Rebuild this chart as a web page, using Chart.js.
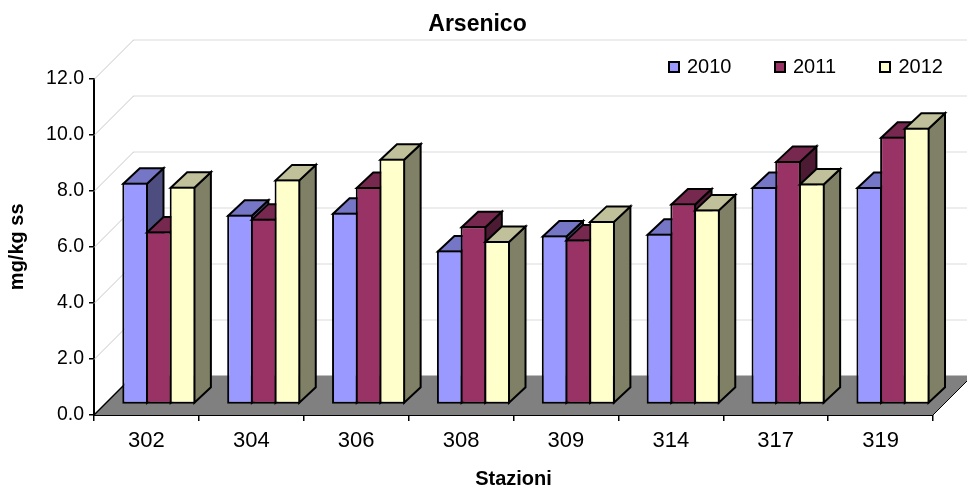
<!DOCTYPE html>
<html><head><meta charset="utf-8">
<style>html,body{margin:0;padding:0;background:#fff}canvas{display:block}</style>
<script src="https://cdn.jsdelivr.net/npm/chart.js@4/dist/chart.umd.js"></script>
</head><body>
<canvas id="c" width="967" height="488"></canvas>
<script>
const stations = ['302','304','306','308','309','314','317','319'];
const values2010 = [7.91,6.77,6.84,5.49,6.03,6.09,7.76,7.76];
const values2011 = [6.17,6.63,7.76,6.36,5.89,7.17,8.69,9.55];
const values2012 = [7.77,8.03,8.77,5.83,6.55,6.96,7.88,9.87];
const yearLabels = ['2010','2011','2012'];
const frontColors = ['#9999FF','#993366','#FFFFCC'];
const topColors = ['#7676C6','#76284F','#C0C09A'];
const sideColors = ['#4D4D80','#4D1A33','#808066'];

const FONT = '"Liberation Sans", Arial, sans-serif';
const WALL = 39.5;
const SHIFT_X = 12.4, SHIFT_Y = -10.5;
const DX = 16.5, DY = -15.5;

function poly(ctx, pts, fill, stroke, lw){
  ctx.beginPath();
  pts.forEach((p,i)=> i?ctx.lineTo(p[0],p[1]):ctx.moveTo(p[0],p[1]));
  ctx.closePath();
  if(fill){ctx.fillStyle=fill;ctx.fill();}
  if(stroke){ctx.strokeStyle=stroke;ctx.lineWidth=lw||1;ctx.stroke();}
}

const scene = {
  id:'scene',
  afterLayout(chart){
    // the title sits slightly right of the canvas centre
    chart.titleBlock.left += 22;
  },
  beforeDatasetsDraw(chart){
    const {ctx,chartArea:a,scales:{y}} = chart;
    ctx.save();
    ctx.lineWidth=1;
    y.ticks.forEach(t=>{
      if(t.value===0) return;
      const py=Math.round(y.getPixelForValue(t.value))+.5;
      ctx.strokeStyle='#c8c8c8';
      ctx.beginPath();ctx.moveTo(a.left,py);ctx.lineTo(a.left+WALL,py-WALL);ctx.stroke();
      ctx.strokeStyle='#b8b8b8';
      ctx.setLineDash([1,1]);
      ctx.beginPath();ctx.moveTo(a.left+WALL,py-WALL);ctx.lineTo(967,py-WALL);ctx.stroke();
      ctx.setLineDash([]);
    });
    const y0=y.getPixelForValue(0);
    poly(ctx,[[a.left,y0],[a.left+WALL,y0-WALL],[a.right+WALL,y0-WALL],[a.right,y0]],'#808080');
    ctx.strokeStyle='#000';ctx.lineWidth=1.5;
    ctx.beginPath();ctx.moveTo(a.left,y0);ctx.lineTo(a.left+WALL,y0-WALL);ctx.stroke();
    ctx.lineWidth=1;
    ctx.beginPath();ctx.moveTo(a.right,y0);ctx.lineTo(a.right+WALL,y0-WALL);ctx.stroke();
    ctx.restore();

    // draw left to right so each bar overlaps the depth of its left neighbour
    chart.data.datasets.forEach((d,i)=>{
      const meta=chart.getDatasetMeta(i);
      ctx.save();
      ctx.translate(SHIFT_X,SHIFT_Y);
      ctx.lineJoin='miter';
      meta.data.forEach(b=>{
        const l=b.x-b.width/2+1, r=b.x+b.width/2-1, t=b.y+1, g=b.base-1;
        poly(ctx,[[r,t],[r+DX,t+DY],[r+DX,g+DY],[r,g]],sideColors[i],'#000',2);
        poly(ctx,[[l,t],[l+DX,t+DY],[r+DX,t+DY],[r,t]],topColors[i],'#000',2);
      });
      meta.controller.draw();
      ctx.restore();
    });
    return false;
  },
  afterDraw(chart){
    const ctx=chart.ctx;
    const xs=[668,774,879], tx=[687,793,898.5];
    ctx.save();
    ctx.font='20px '+FONT;ctx.textBaseline='middle';ctx.textAlign='left';
    chart.data.datasets.forEach((d,i)=>{
      ctx.fillStyle=frontColors[i];ctx.strokeStyle='#000';ctx.lineWidth=2;
      ctx.fillRect(xs[i]+1,62,10,10);ctx.strokeRect(xs[i]+1,62,10,10);
      ctx.fillStyle='#000';ctx.fillText(d.label,tx[i],67.5);
    });
    ctx.restore();
  }
};

new Chart(document.getElementById('c'),{
  type:'bar',
  data:{labels:stations,datasets:[
    {label:yearLabels[0],data:values2010},
    {label:yearLabels[1],data:values2011},
    {label:yearLabels[2],data:values2012}
  ].map((d,i)=>Object.assign(d,{backgroundColor:frontColors[i],borderColor:'#000',borderWidth:2,borderSkipped:false,clip:false,categoryPercentage:0.678,barPercentage:1.084}))},
  plugins:[scene],
  options:{
    responsive:false,animation:false,
    layout:{padding:{left:0,right:34,top:0,bottom:0}},
    plugins:{
      legend:{display:false},tooltip:{enabled:false},
      title:{display:true,text:'Arsenico',color:'#000',font:{family:FONT,size:23,weight:'bold'},padding:{top:11,bottom:40}}
    },
    scales:{
      x:{
        afterFit(s){s.height=73;},
        grid:{drawOnChartArea:false,drawTicks:true,tickLength:6,color:'#000',lineWidth:1.5},
        border:{display:true,color:'#000',width:2},
        ticks:{color:'#000',padding:7,font:{family:FONT,size:22},maxRotation:0},
        title:{display:true,text:'Stazioni',color:'#000',font:{family:FONT,size:20,weight:'bold'},padding:{top:0,bottom:-3}}
      },
      y:{
        min:0,max:12,
        afterFit(s){s.width=94;},
        grid:{drawOnChartArea:false,drawTicks:true,tickLength:5,color:'#000',lineWidth:1.5},
        border:{display:true,color:'#000',width:2},
        ticks:{stepSize:2,color:'#000',padding:5,font:{family:FONT,size:19.5},callback:v=>v.toFixed(1)},
        title:{display:true,text:'mg/kg ss',color:'#000',font:{family:FONT,size:20,weight:'bold'},padding:{top:5,bottom:0}}
      }
    }
  }
});
</script>
</body></html>
